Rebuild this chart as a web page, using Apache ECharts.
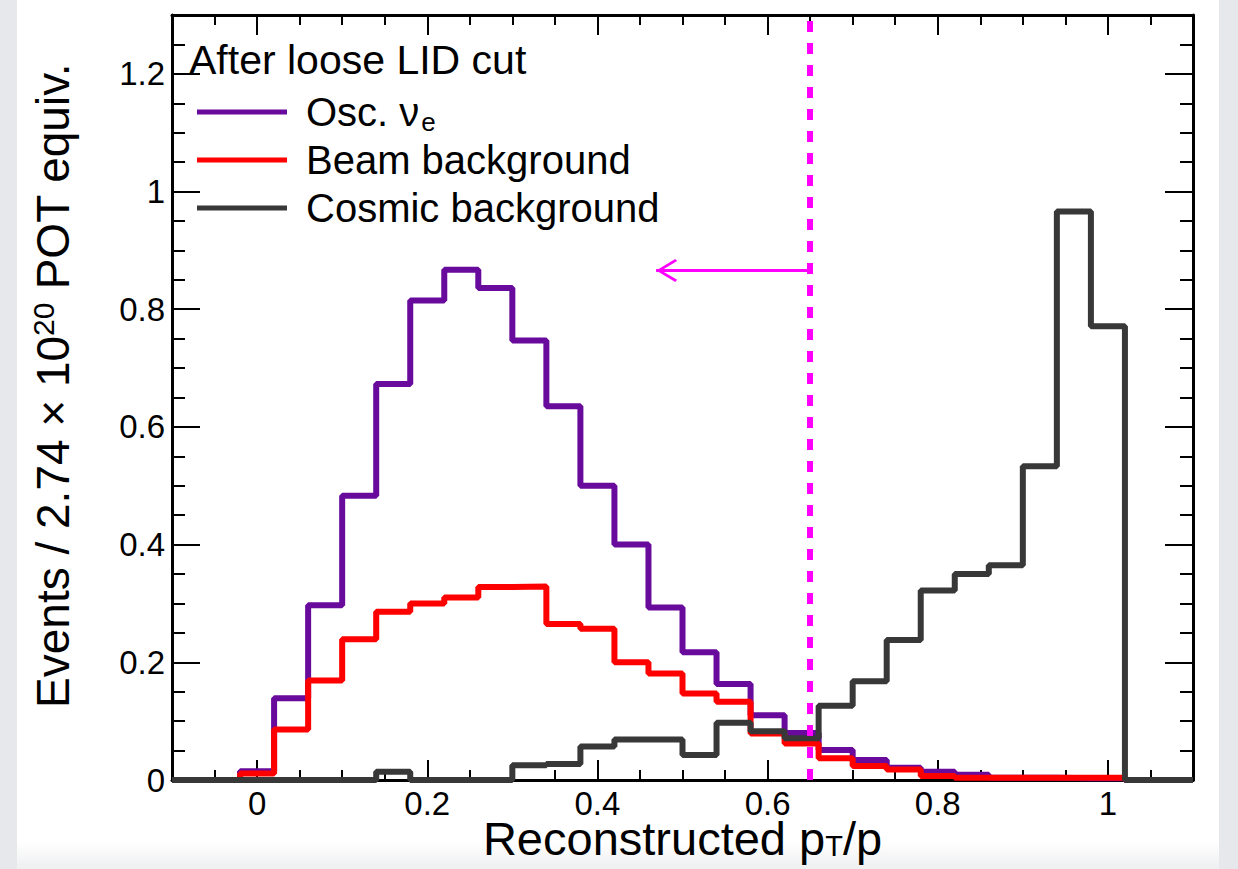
<!DOCTYPE html>
<html><head><meta charset="utf-8">
<script src="https://cdn.jsdelivr.net/npm/echarts@6/dist/echarts.min.js"></script>
<style>
html,body{margin:0;padding:0;width:1238px;height:869px;overflow:hidden;background:#e6e8ec;}
#panel{position:absolute;left:17px;top:0;width:1202px;height:869px;background:linear-gradient(to bottom,#ffffff 0,#ffffff 842px,#eeeff1 869px);}
#chart{position:absolute;left:0;top:0;width:1238px;height:869px;}
</style></head><body><div id="panel"></div><div id="chart"></div>
<script>
// ---- data (30 bins of width 0.04 starting at -0.1) ----
const binLow = -0.1;
const binWidth = 0.04;
const oscNue = [0, 0, 0.015, 0.139, 0.297, 0.483, 0.673, 0.815, 0.867, 0.836,
  0.747, 0.635, 0.500, 0.400, 0.293, 0.217, 0.163, 0.110, 0.080, 0.051,
  0.034, 0.021, 0.014, 0.009, 0.004, 0.004, 0.003, 0.003, 0, 0];
const beamBkg = [0, 0, 0.011, 0.086, 0.169, 0.239, 0.286, 0.300, 0.310, 0.328,
  0.329, 0.265, 0.257, 0.200, 0.181, 0.147, 0.133, 0.079, 0.062, 0.037,
  0.024, 0.018, 0.007, 0.004, 0.004, 0.004, 0.004, 0.004, 0, 0];
const cosmicBkg = [0, 0, 0, 0, 0, 0, 0.014, 0, 0, 0,
  0.025, 0.027, 0.057, 0.069, 0.069, 0.0425, 0.0975, 0.083, 0.071, 0.126,
  0.168, 0.238, 0.322, 0.350, 0.365, 0.533, 0.966, 0.771, 0, 0];
const seriesNames = ['Osc. ν_e', 'Beam background', 'Cosmic background'];
const legendHeader = 'After loose LID cut';
const cutValue = 0.65;
const arrowLevel = 0.866;
const arrowTip = 0.469;
const xMajorTicks = [0, 0.2, 0.4, 0.6, 0.8, 1];
const yMajorTicks = [0, 0.2, 0.4, 0.6, 0.8, 1, 1.2];
const xRange = [-0.1, 1.1];
const yRange = [0, 1.3];
const minorStep = 0.05;

// ---- build step data from bins ----
function histData(vals) {
  const d = vals.map((v, i) => [+(binLow + i * binWidth).toFixed(4), v]);
  d.push([+(binLow + vals.length * binWidth).toFixed(4), vals[vals.length - 1]]);
  return d;
}
const FONT = 'Liberation Sans, Arial, sans-serif';
const isMajor = (v, arr) => arr.some(m => Math.abs(m - v) < 1e-6);
const fmt = v => String(Math.round(v * 10) / 10);

const chart = echarts.init(document.getElementById('chart'), null, {renderer: 'svg', width: 1238, height: 869});
const gridRect = {left: 172, right: 45, top: 15, bottom: 89, containLabel: false, outerBoundsMode: 'none'};
const frameLine = {show: true, onZero: false, lineStyle: {color: '#000', width: 3}};
const noLine = {show: false, onZero: false};

function xAx(grid, pos, major) {
  return {
    type: 'value', gridIndex: grid, position: pos, min: xRange[0], max: xRange[1], interval: minorStep,
    axisLine: major ? noLine : frameLine,
    splitLine: {show: false},
    axisTick: major ? {show: true, inside: true, length: 20, lineStyle: {color: '#000', width: 2}, customValues: xMajorTicks}
                    : {show: true, inside: true, length: 10, lineStyle: {color: '#000', width: 2}},
    axisLabel: (!major && pos === 'bottom') ? {
      show: true, margin: 8, color: '#000', fontSize: 33, lineHeight: 30, fontFamily: FONT,
      formatter: v => isMajor(v, xMajorTicks) ? fmt(v) : '', showMinLabel: true, showMaxLabel: true, hideOverlap: false
    } : {show: false},
    name: (!major && pos === 'bottom') ? '{a|Reconstructed p}{s|T}{a|/p}' : '',
    nameLocation: 'middle', nameGap: 38, nameMoveOverlap: false,
    nameTextStyle: {color: '#000', fontFamily: FONT, lineHeight: 40, rich: {
      a: {fontSize: 47, fontFamily: FONT, color: '#000', lineHeight: 40},
      s: {fontSize: 29, fontFamily: FONT, color: '#000', lineHeight: 28, padding: [16, 0, 0, 0]}
    }}
  };
}
function yAx(grid, pos, major) {
  return {
    type: 'value', gridIndex: grid, position: pos, min: yRange[0], max: yRange[1], interval: minorStep,
    axisLine: major ? noLine : frameLine,
    splitLine: {show: false},
    axisTick: major ? {show: true, inside: true, length: 28, lineStyle: {color: '#000', width: 2}, customValues: yMajorTicks}
                    : {show: true, inside: true, length: 13, lineStyle: {color: '#000', width: 2}},
    axisLabel: (!major && pos === 'left') ? {
      show: true, margin: 7, color: '#000', fontSize: 33, fontFamily: FONT,
      formatter: v => isMajor(v, yMajorTicks) ? fmt(v) : '', showMinLabel: true, showMaxLabel: false
    } : {show: false},
    name: (!major && pos === 'left') ? '{a|Events / 2.74 × 10}{p|20}{a| POT equiv.}' : '',
    nameLocation: 'middle', nameRotate: 90, nameGap: 94,
    nameTextStyle: {color: '#000', fontFamily: FONT, padding: [0, 0, 0, 24], rich: {
      a: {fontSize: 46, fontFamily: FONT, color: '#000'},
      p: {fontSize: 30, fontFamily: FONT, color: '#000', padding: [0, 0, 20, 0]}
    }}
  };
}

const arrowPath = 'path://M0,0 L0.001,0 Z M0,10 L5.6,19 L4.6,19.9 L0,12.4 L-4.6,19.9 L-5.6,19 Z';

const colors = ['#680a9c', '#ff0000', '#383838'];
const datasets = [oscNue, beamBkg, cosmicBkg];
const series = datasets.map((vals, k) => ({
  name: seriesNames[k], type: 'line', step: 'end', xAxisIndex: 0, yAxisIndex: 0,
  data: histData(vals), showSymbol: false, symbol: 'none', clip: false,
  color: colors[k], lineStyle: {color: colors[k], width: 6}, z: 2 + k,
  emphasis: {disabled: true}
}));
series[2].markLine = {
  silent: true, symbol: ['none', 'none'], label: {show: false}, animation: false,
  data: [
    {xAxis: cutValue, lineStyle: {color: '#ff00ff', width: 6, type: [11, 11]}},
    [
      {coord: [cutValue, arrowLevel], symbol: 'none'},
      {coord: [arrowTip, arrowLevel], symbol: arrowPath, symbolSize: [23, 42], lineStyle: {color: '#ff00ff', width: 3, type: 'solid'}}
    ]
  ],
  lineStyle: {color: '#ff00ff', width: 3, type: 'solid'}
};

const option = {
  animation: false,
  grid: [Object.assign({}, gridRect), Object.assign({}, gridRect)],
  xAxis: [xAx(0, 'bottom', false), xAx(0, 'top', false), xAx(1, 'bottom', true), xAx(1, 'top', true)],
  yAxis: [yAx(0, 'left', false), yAx(0, 'right', false), yAx(1, 'left', true), yAx(1, 'right', true)],
  title: {text: legendHeader, left: 189, top: 39, padding: 0,
    textStyle: {fontSize: 41, fontWeight: 'normal', color: '#000', fontFamily: FONT, lineHeight: 41}},
  legend: {
    orient: 'vertical', left: 197, top: 88, padding: 0, itemGap: 0,
    itemWidth: 90, itemHeight: 5, icon: 'rect', selectedMode: false,
    data: seriesNames,
    formatter: n => n === seriesNames[0] ? '{a|Osc. ν}{s|e}' : '{a|' + n + '}',
    textStyle: {color: '#000', fontFamily: FONT, fontSize: 40, lineHeight: 48, padding: [0, 0, 0, 14], rich: {
      a: {fontSize: 40, fontFamily: FONT, color: '#000', lineHeight: 48},
      s: {fontSize: 26, fontFamily: FONT, color: '#000', padding: [20, 0, 0, 2]}
    }}
  },
  series: series
};
chart.setOption(option);
</script></body></html>
